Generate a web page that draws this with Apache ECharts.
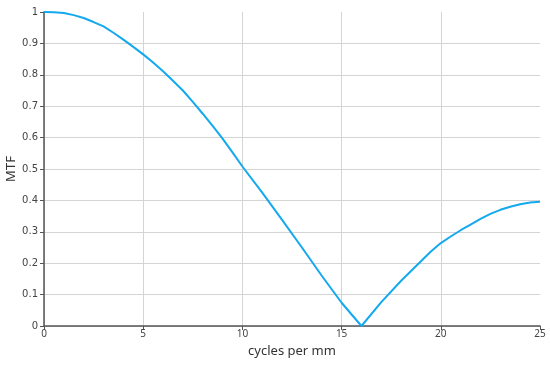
<!DOCTYPE HTML>
<HTML>
<head>
    <meta charset="utf-8">
    <title>MTF</title>
    <script src="https://cdn.jsdelivr.net/npm/echarts@6/dist/echarts.min.js"></script>
</head>
<body style="margin:0">
    <div id="result" style="width:550px;height:366px;"></div>
    <script>
        // spatial frequency (cycles per mm) and MTF
        var freq = [0, 0.5, 1, 1.5, 2, 2.5, 3, 3.5, 4, 4.5, 5, 5.5, 6, 6.5, 7, 7.5, 8, 8.5, 9, 9.5, 10,
            11, 12, 13, 14, 15, 16, 17, 18, 19, 19.5, 20, 20.5, 21, 21.5, 22, 22.5, 23, 23.5, 24, 24.5, 25];
        var mtf = [1.0, 0.999, 0.997, 0.99, 0.981, 0.968, 0.954, 0.934, 0.912, 0.889, 0.865, 0.839, 0.811, 0.781, 0.75, 0.714,
            0.676, 0.637, 0.597, 0.553, 0.508,
            0.425, 0.338, 0.25, 0.16, 0.074, 0.0, 0.076, 0.144, 0.206, 0.237, 0.264, 0.285, 0.305, 0.323, 0.341, 0.357,
            0.37, 0.38, 0.388, 0.393, 0.396];
        var xName = 'cycles per mm';
        var yName = 'MTF';

        var pts = freq.map(function (f, i) { return [f, mtf[i]]; });
        var myChart = echarts.init(document.getElementById('result'));
        var option = {
            animation: false,
            grid: { left: 44, right: 10, top: 12, bottom: 40, outerBoundsMode: 'none' },
            xAxis: {
                type: 'value', min: 0, max: 25, interval: 5,
                name: xName, nameLocation: 'middle', nameGap: 19, nameMoveOverlap: false,
                nameTextStyle: { fontFamily: 'Noto Sans', fontSize: 13, color: '#333' },
                axisLine: { lineStyle: { color: '#555', width: 1.5 } },
                axisTick: { show: true, length: 4, lineStyle: { color: '#555' } },
                axisLabel: { fontFamily: 'Noto Sans', fontSize: 10, color: '#444', margin: 3 },
                splitLine: { show: true, showMaxLine: false, lineStyle: { color: '#d4d4d4' } }
            },
            yAxis: {
                type: 'value', min: 0, max: 1, interval: 0.1,
                name: yName, nameLocation: 'middle', nameGap: 26, nameMoveOverlap: false,
                nameTextStyle: { fontFamily: 'Noto Sans', fontSize: 13, color: '#333' },
                axisLine: { show: true, lineStyle: { color: '#555', width: 1.5 } },
                axisTick: { show: true, length: 4, lineStyle: { color: '#555' } },
                axisLabel: { fontFamily: 'DejaVu Sans', fontSize: 10, color: '#444', margin: 6 },
                splitLine: { show: true, showMaxLine: false, lineStyle: { color: '#d4d4d4' } }
            },
            series: [{
                type: 'line',
                data: pts,
                symbol: 'none',
                lineStyle: { color: '#14a9ee', width: 2 }
            }]
        };
        myChart.setOption(option);
    </script>
</body>
</HTML>
